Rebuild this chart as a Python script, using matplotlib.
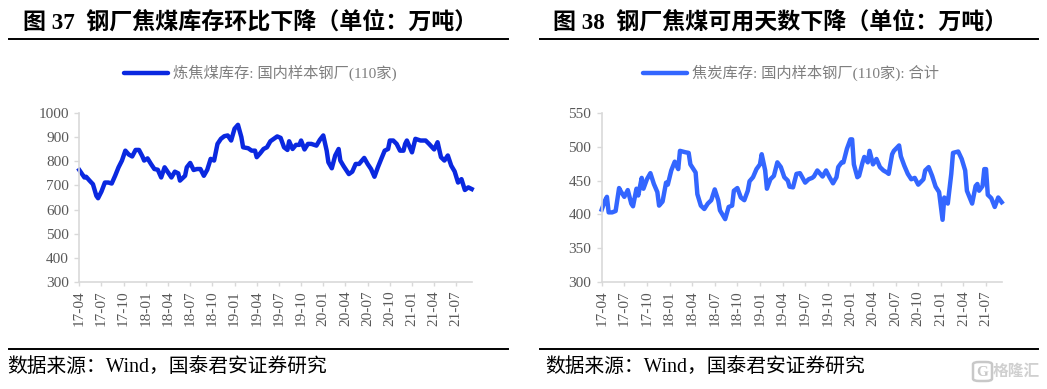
import matplotlib
matplotlib.use('Agg')
import matplotlib.pyplot as plt
from matplotlib.lines import Line2D
from matplotlib.patches import FancyBboxPatch

plt.rcParams['font.family'] = ['Liberation Serif', 'Noto Sans CJK SC']

# week number counted from 17-04
weeks_a = [0, 3, 4, 6, 8, 10, 11, 13, 15, 17, 19, 21, 23, 25, 27, 29, 31, 33, 35, 37, 38, 40, 42, 44, 46, 48, 50, 52, 54, 56, 58, 59,
           62, 63, 65, 67, 69, 71, 73, 75, 77, 79, 81, 83, 85, 87, 89, 91, 93, 95, 96, 99, 101, 103, 104, 106, 108, 110, 112, 114,
           116, 118, 120, 122, 123, 125, 127, 129, 130, 132, 134, 136, 139, 141, 143, 145, 146, 148, 150, 152, 153, 155, 158, 160,
           162, 164, 167, 169, 171, 173, 175, 177, 179, 181, 182, 184, 186, 188, 190, 191, 192, 195, 197, 200, 203, 205, 208, 210,
           212, 214, 216, 218, 220, 222, 224, 226, 228, 230]
stock_a = [764, 733, 736, 720, 705, 657, 647, 675, 712, 712, 708, 740, 775, 803, 844, 828, 820, 847, 847, 820, 803, 812, 789, 768,
           765, 733, 775, 754, 733, 757, 750, 720, 740, 775, 793, 764, 768, 768, 740, 765, 810, 803, 872, 893, 904, 907, 886, 935,
           951, 900, 858, 854, 844, 844, 817, 833, 851, 858, 883, 893, 903, 897, 858, 847, 883, 851, 868, 868, 886, 849, 872, 872,
           865, 889, 907, 844, 796, 771, 824, 851, 803, 779, 747, 757, 789, 789, 814, 789, 768, 736, 775, 810, 844, 851, 886, 886,
           872, 844, 844, 872, 886, 837, 893, 886, 886, 872, 849, 879, 817, 803, 824, 782, 758, 712, 726, 681, 692, 685]

weeks_b = [0, 2, 3, 4, 6, 8, 10, 11, 13, 15, 17, 18, 20, 21, 23, 24, 26, 28, 30, 32, 33, 35, 37, 38, 40, 42, 44, 45, 48, 50, 51, 54,
           55, 57, 59, 61, 63, 65, 67, 68, 71, 73, 75, 76, 78, 80, 82, 84, 85, 87, 89, 91, 92, 94, 95, 97, 99, 101, 103, 105, 107,
           108, 110, 112, 114, 117, 119, 121, 122, 124, 127, 129, 131, 133, 135, 136, 138, 139, 141, 143, 144, 145, 147, 148, 150,
           151, 153, 154, 156, 158, 160, 162, 164, 165, 167, 168, 171, 172, 174, 176, 178, 180, 182, 185, 186, 188, 190, 192, 194,
           196, 197, 199, 201, 202, 205, 207, 209, 210, 213, 215, 216, 217, 219, 220, 221, 222, 224, 226, 228, 230]
stock_b = [407, 421, 426, 403, 403, 405, 439, 434, 426, 436, 416, 412, 438, 428, 454, 438, 452, 461, 445, 433, 413, 419, 447, 444,
           465, 478, 467, 494, 492, 491, 474, 462, 430, 413, 408, 416, 421, 437, 421, 406, 393, 411, 413, 435, 439, 425, 421, 435,
           449, 455, 467, 474, 489, 465, 438, 452, 457, 477, 470, 455, 450, 441, 440, 460, 461, 447, 452, 454, 456, 465, 456, 465,
           455, 446, 455, 470, 477, 477, 497, 511, 511, 474, 455, 457, 477, 485, 477, 494, 474, 482, 470, 465, 462, 460, 489, 494,
           502, 486, 472, 460, 452, 454, 444, 452, 465, 470, 457, 441, 433, 392, 425, 416, 460, 491, 493, 482, 465, 435, 416, 442,
           445, 435, 442, 467, 467, 429, 424, 411, 425, 418]

tick_labels = ['17-04', '17-07', '17-10', '18-01', '18-04', '18-07', '18-10', '19-01', '19-04', '19-07', '19-10',
               '20-01', '20-04', '20-07', '20-10', '21-01', '21-04', '21-07']
yticks_a = [300, 400, 500, 600, 700, 800, 900, 1000]
yticks_b = [300, 350, 400, 450, 500, 550]

W, H = 1047, 389
GREY = '#d9d9d9'
TXT = '#595959'

fig = plt.figure(figsize=(W / 100, H / 100), dpi=100)


def panel(left, right, weeks, vals, yticks, color, legend_label, leg_x):
    ax = fig.add_axes([left / W, 1 - 282 / H, (right - left) / W, 169 / H])
    ax.plot(weeks, vals, color=color, lw=3.2, solid_joinstyle='round', clip_on=False)
    ax.set_xlim(0, 230)
    ax.set_ylim(yticks[0], yticks[-1])
    ax.set_xticks([13 * i for i in range(len(tick_labels))])
    ax.set_xticklabels(tick_labels, rotation=90, fontsize=11, color=TXT)
    ax.set_yticks(yticks)
    ax.tick_params(axis='y', labelsize=11, labelcolor=TXT, color=GREY, length=3.5, width=1, pad=4)
    ax.tick_params(axis='x', color=GREY, length=3, width=1, pad=3)
    for s in ['top', 'right']:
        ax.spines[s].set_visible(False)
    for s in ['left', 'bottom']:
        ax.spines[s].set_color(GREY)
        ax.spines[s].set_linewidth(1.2)
    leg = ax.legend([Line2D([], [], color=color, lw=3.2, solid_capstyle='round')], [legend_label],
                    loc='center', bbox_to_anchor=(leg_x / W, 1 - 73 / H), bbox_transform=fig.transFigure,
                    frameon=False, fontsize=11, handlelength=2.9, handletextpad=0.3)
    for t in leg.get_texts():
        t.set_color('#7f7f7f')
    return ax


panel(79.3, 471.7, weeks_a, stock_a, yticks_a, '#0a28e0', '炼焦煤库存: 国内样本钢厂(110家)', 260)
panel(601.7, 1001.7, weeks_b, stock_b, yticks_b, '#3366ff', '焦炭库存: 国内样本钢厂(110家): 合计', 791)

fig.text(23 / W, 1 - 22 / H, '图 37  钢厂焦煤库存环比下降（单位：万吨）', fontsize=16.6, fontweight='bold', va='center', color='black')
fig.text(553 / W, 1 - 22 / H, '图 38  钢厂焦煤可用天数下降（单位：万吨）', fontsize=16.6, fontweight='bold', va='center', color='black')
fig.text(7 / W, 1 - 367 / H, '数据来源：Wind，国泰君安证券研究', fontsize=14.2, va='center', color='black')
fig.text(545 / W, 1 - 367 / H, '数据来源：Wind，国泰君安证券研究', fontsize=14.2, va='center', color='black')

# header and footer rules
for x0, x1 in [(9, 508), (540, 1038)]:
    for y in (39, 349):
        fig.add_artist(Line2D([x0 / W, x1 / W], [1 - y / H, 1 - y / H], color='black', lw=1.4))

# watermark
fig.add_artist(FancyBboxPatch((973 / W, 1 - 381 / H), 19 / W, 19 / H, boxstyle='round,pad=0,rounding_size=0.006',
                              transform=fig.transFigure, fc='none', ec='#c8c8c8', lw=1.8))
fig.text(982.5 / W, 1 - 372 / H, 'G', fontsize=11, fontweight='bold', color='#c8c8c8', ha='center', va='center')
fig.text(993 / W, 1 - 372 / H, '格隆汇', fontsize=11.3, fontweight='bold', color='#d0d0d0', va='center')

fig.savefig('out.png', dpi=100)
